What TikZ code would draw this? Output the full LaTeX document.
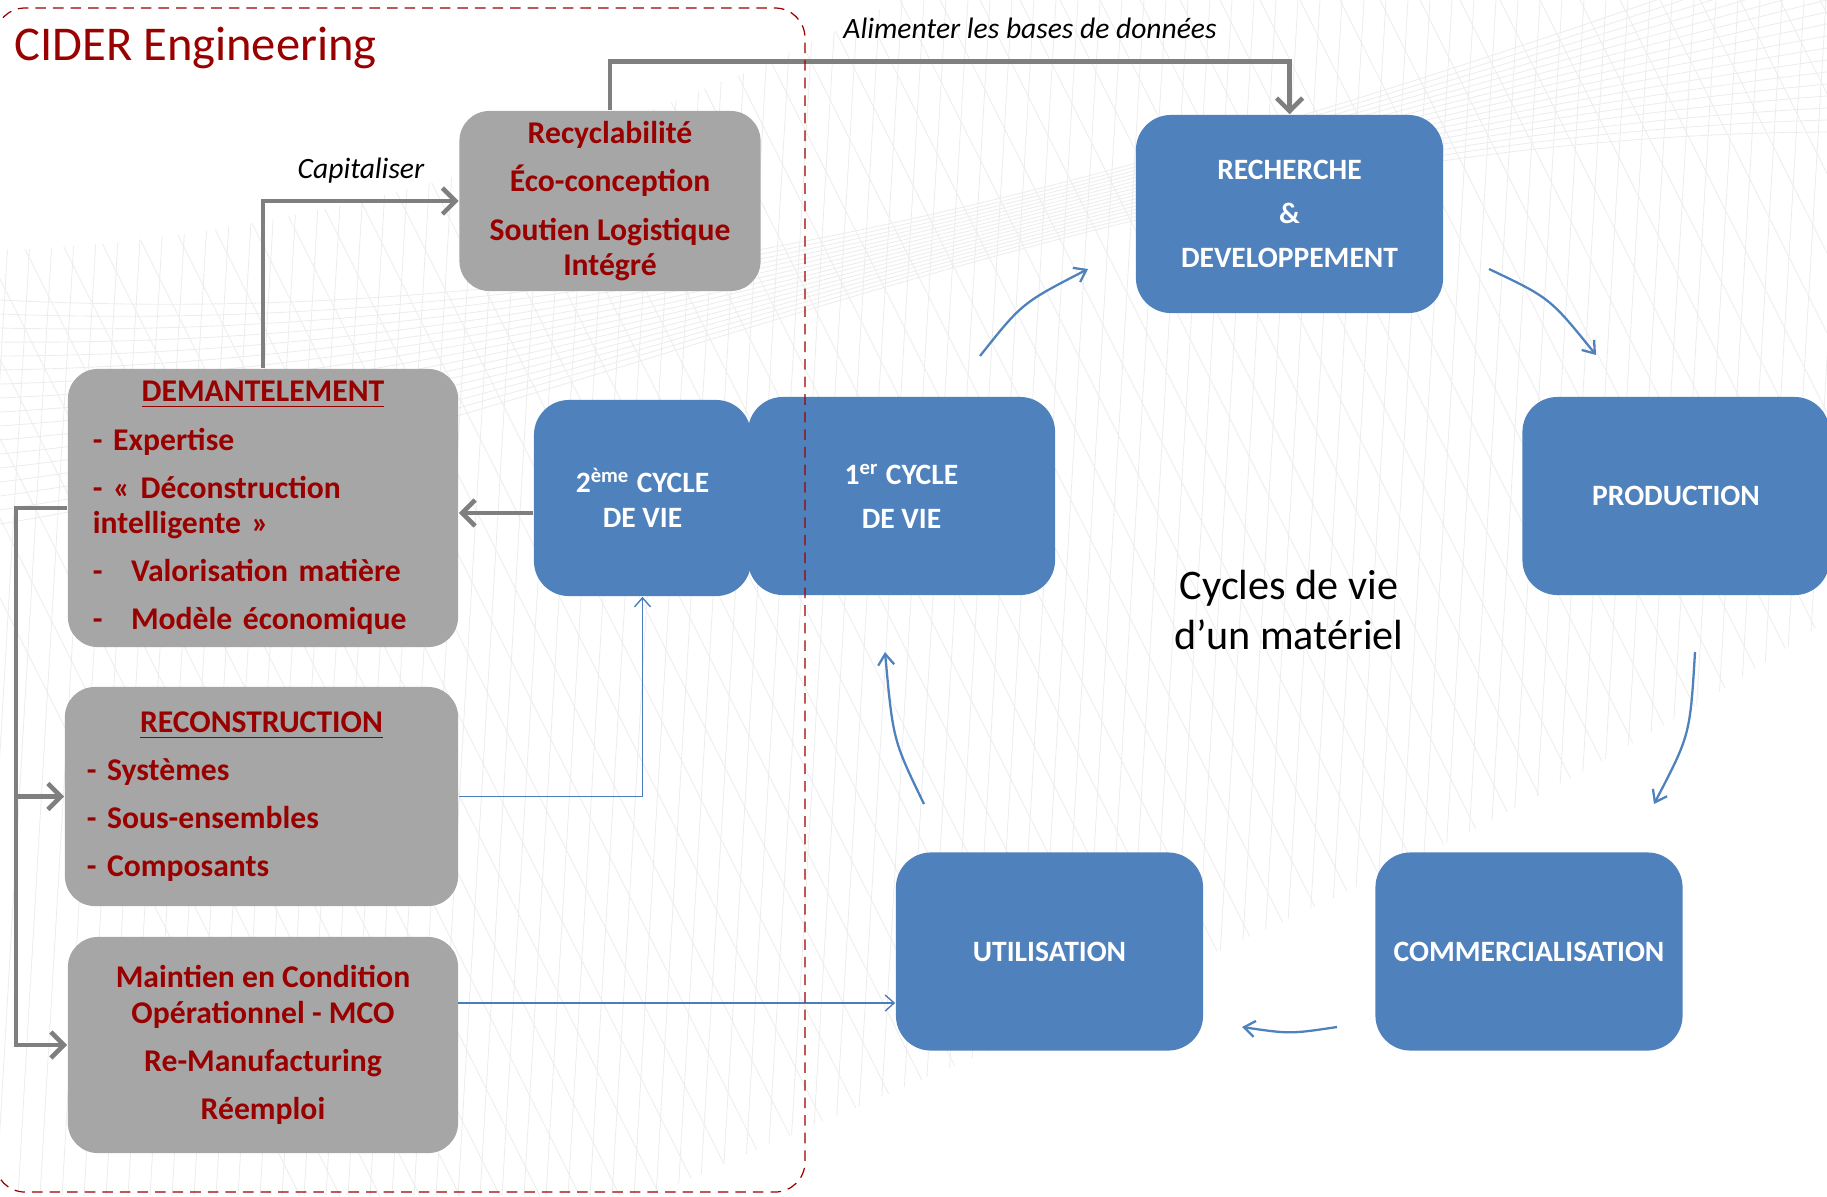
\documentclass[tikz,border=0pt]{standalone}
\usepackage{fontspec}
\setmainfont{Carlito}
\usetikzlibrary{arrows.meta, positioning, calc}

\definecolor{cidred}{HTML}{990000}
\definecolor{boxgray}{HTML}{A6A6A6}
\definecolor{cycblue}{HTML}{4F81BD}
\definecolor{arrowgray}{HTML}{7F7F7F}
\definecolor{linkblue}{HTML}{4A7EBB}

\newcommand{\boxfont}{\fontsize{9}{10}\selectfont}
\newcommand{\cycfont}{\fontsize{8.4}{10}\selectfont}

\begin{document}
\begin{tikzpicture}[
    x=0.01cm, y=-0.01cm,
    graybox/.style={rectangle, fill=boxgray, rounded corners=0.3cm, text=cidred, font=\boxfont\bfseries, inner sep=0pt},
    bluebox/.style={rectangle, fill=cycblue, rounded corners=0.35cm, text=white, font=\cycfont\bfseries, align=center, inner sep=0pt, minimum width=3.07cm, minimum height=1.98cm},
    grayarrow/.style={draw=arrowgray, line width=1.3pt, -{Straight Barb[length=1.3mm, width=2.6mm]}},
    thinlink/.style={draw=linkblue, line width=0.4pt, -{Straight Barb[length=0.9mm, width=1.6mm]}},
    cyclearrow/.style={draw=cycblue, line width=0.65pt, -{Straight Barb[length=1.1mm, width=1.6mm]}},
    meshline/.style={draw=gray!14, line width=0.25pt},
    linklabel/.style={font=\fontsize{8.4}{10}\selectfont\itshape}
]
\useasboundingbox (0,0) rectangle (1827,1196);

% Background wire mesh
\begin{scope}
  \clip (0,250) .. controls (300,240) and (600,150) .. (900,0) -- (1827,0) -- (1827,620)
        .. controls (1500,850) and (1100,1000) .. (650,1196) -- (0,1196) -- cycle;
  \foreach \i in {0,...,60} {
    \draw[meshline] (-300+\i*40,0) -- (\i*40+300,1196);
  }
  \foreach \i in {0,...,92} {
    \draw[meshline] (\i*22,0) -- (\i*22-70,1196);
  }
\end{scope}
\foreach \i in {0,...,16} {
  \draw[meshline] (0,300+\i*14) .. controls (600,330+\i*6) and (1100,200-\i*4) .. (1827,-60+\i*12);
}

% Title
\node[anchor=west, text=cidred, font=\fontsize{13.8}{16}\selectfont] (title) at (2,48) {CIDER Engineering};

% Left column: end of life boxes
\node[graybox, align=center, minimum width=3.01cm, minimum height=1.8cm] (recyc) at (610,201)
  {Recyclabilité\\[3.7pt]Éco-conception\\[3.7pt]Soutien Logistique\\Intégré};

\node[graybox, align=left, text width=3.4cm, inner xsep=0.25cm, minimum height=2.78cm] (dem) at (263,508)
  {\makebox[\linewidth]{\underline{DEMANTELEMENT}}\\[3.7pt]
   - Expertise\\[3.7pt]
   - « Déconstruction\\intelligente »\\[3.7pt]
   -\hspace{0.9em}Valorisation matière\\[3.7pt]
   -\hspace{0.9em}Modèle économique};

\node[graybox, align=left, text width=3.49cm, inner xsep=0.22cm, minimum height=2.19cm] (recon) at (261.5,796.5)
  {\makebox[\linewidth]{\underline{RECONSTRUCTION}}\\[3.7pt]
   - Systèmes\\[3.7pt]
   - Sous-ensembles\\[3.7pt]
   - Composants};

\node[graybox, align=center, minimum width=3.9cm, minimum height=2.16cm] (mco) at (263,1045)
  {Maintien en Condition\\Opérationnel - MCO\\[3.7pt]Re-Manufacturing\\[3.7pt]Réemploi};

% Life cycle boxes
\node[bluebox] (cyc1) at (901.5,496) {1\textsuperscript{er} CYCLE\\[2.5pt]DE VIE};
\node[bluebox, minimum width=2.17cm, minimum height=1.96cm] (cyc2) at (642.5,498) {2\textsuperscript{ème} CYCLE\\DE VIE};
\node[bluebox] (rd) at (1289.5,214) {RECHERCHE\\[2.5pt]\&\\[2.5pt]DEVELOPPEMENT};
\node[bluebox] (prod) at (1676,496) {PRODUCTION};
\node[bluebox] (comm) at (1529,951.5) {COMMERCIALISATION};
\node[bluebox] (util) at (1049.5,951.5) {UTILISATION};

\node[align=center, font=\fontsize{12}{14.2}\selectfont] (cyctitle) at (1289,610) {Cycles de vie\\d’un matériel};

% Feedback links
\draw[grayarrow] (recyc.north) -- ++(0,-49) -| (rd.north);
\node[linklabel] (feed) at (1030,28) {Alimenter les bases de données};
\draw[grayarrow] (dem.north) |- (recyc.west);
\node[linklabel] (capi) at (361,171) {Capitaliser};
\draw[grayarrow] ($(cyc2.west)+(0,15)$) -- ($(dem.east)+(0,5)$);

% Dispatch from dismantling
\coordinate (spine) at (16,0);
\draw[grayarrow] (dem.west) -- (dem.west -| spine) |- (mco.west);
\draw[grayarrow] (recon.west -| spine) -- (recon.west);

\draw[thinlink] (recon.east) -| (cyc2.south);
\coordinate (mcoout) at (458,1003);
\draw[thinlink] (mcoout) -- (mcoout -| util.west);

% Cycle arrows
\coordinate (c1a) at (980,356);   \coordinate (c1b) at (1088,269);
\coordinate (c2a) at (1489,269);  \coordinate (c2b) at (1596,355);
\coordinate (c3a) at (1695,652);  \coordinate (c3b) at (1654,804);
\coordinate (c4a) at (1337,1027); \coordinate (c4b) at (1242,1027);
\coordinate (c5a) at (924,804);   \coordinate (c5b) at (885,652);
\draw[cyclearrow] (c1a) .. controls (1022,303) .. (c1b);
\draw[cyclearrow] (c2a) .. controls (1550,298) .. (c2b);
\draw[cyclearrow] (c3a) .. controls (1690,735) .. (c3b);
\draw[cyclearrow] (c4a) .. controls (1290,1034) .. (c4b);
\draw[cyclearrow] (c5a) .. controls (893,740) .. (c5b);

% Company boundary
\draw[cidred, line width=0.35pt, dash pattern=on 3pt off 2pt, rounded corners=0.3cm] (-5,8) rectangle (805,1192);

\end{tikzpicture}
\end{document}
